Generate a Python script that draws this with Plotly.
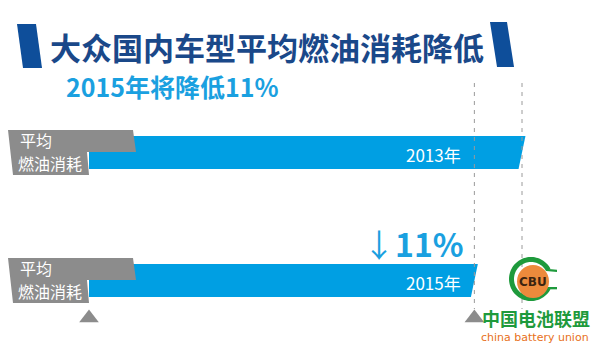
import math
import plotly.graph_objects as go

# ---- data ----
years = ["2013年", "2015年"]
values = [100, 89]          # average fuel consumption index (2013 = 100)
label_lines = ["平均", "燃油消耗"]
title_text = "大众国内车型平均燃油消耗降低"
subtitle_text = "2015年将降低11%"
logo_cn = "中国电池联盟"
logo_en = "china battery union"

# ---- styles / layout constants ----
W, H = 600, 349
BLUE = "#009fe3"
GRAY = "#8c8c8c"
NAVY = "#0e4e9a"
TITLE_C = "#1a4889"
SUB_C = "#1aa0e0"
GREEN = "#1e9a3c"
ORANGE = "#e8701a"
FONT = "Noto Sans CJK SC"

px_per_unit = 4.33
x0_px = 89.0
x_range = [-x0_px / px_per_unit, (W - x0_px) / px_per_unit]

bar_tops = [136, 264]
bar_h = 33
slant = 0.8   # in value units

fig = go.Figure()

# bars with slanted ends
for yr, v, top in zip(years, values, bar_tops):
    bot = top + bar_h
    fig.add_trace(go.Scatter(
        x=[0, v + slant, v - slant, 0, 0],
        y=[top, top, bot, bot, top],
        fill="toself", fillcolor=BLUE, mode="lines",
        line=dict(width=0, color=BLUE), hoverinfo="skip", showlegend=False))

# dashed reference lines at the bar ends
for v in values:
    fig.add_trace(go.Scatter(
        x=[v, v], y=[83, 309], mode="lines",
        line=dict(color="#9a9a9a", width=1, dash="4px,5px"),
        hoverinfo="skip", showlegend=False))

# triangles marking zero and the 2015 value
fig.add_trace(go.Scatter(
    x=[0, values[1]], y=[318, 318], mode="markers",
    marker=dict(symbol="triangle-up", size=17, color=GRAY, line=dict(width=0)),
    hoverinfo="skip", showlegend=False))

shapes = []
annotations = []

def poly(pts, color, layer="above"):
    d = "M " + " L ".join(f"{x},{y}" for x, y in pts) + " Z"
    return dict(type="path", path=d, xref="x2", yref="y", fillcolor=color,
                line=dict(width=0), layer=layer)

# title bars
shapes.append(poly([(17, 24), (36, 24), (42, 68), (23, 68)], NAVY))
shapes.append(poly([(490, 22), (507, 22), (514, 67), (497, 67)], NAVY))

# gray label tabs
for yr, top in zip(years, bar_tops):
    g0 = top - 6
    shapes.append(poly([(8, g0), (133, g0), (136, g0 + 22), (87, g0 + 22),
                        (89, g0 + 45), (13, g0 + 45)], GRAY))
    annotations.append(dict(x=18, y=g0 + 10, xref="x2", yref="y", text=label_lines[0],
                            showarrow=False, xanchor="left", yanchor="middle",
                            font=dict(family=FONT, size=16, color="white")))
    annotations.append(dict(x=16, y=g0 + 33, xref="x2", yref="y", text=label_lines[1],
                            showarrow=False, xanchor="left", yanchor="middle",
                            font=dict(family=FONT, size=16, color="white")))
    annotations.append(dict(x=463, y=top + 18, xref="x2", yref="y", text=yr,
                            showarrow=False, xanchor="right", yanchor="middle",
                            font=dict(family=FONT, size=17, color="white")))

# change label
drop = round((1 - values[1] / values[0]) * 100)
annotations.append(dict(x=466, y=243, xref="x2", yref="y", text=f"↓<b>{drop}%</b>",
                        showarrow=False, xanchor="right", yanchor="middle",
                        font=dict(family=FONT, size=32, color=SUB_C)))

# title & subtitle
annotations.append(dict(x=267, y=46, xref="x2", yref="y", text=f"<b>{title_text}</b>",
                        showarrow=False, xanchor="center", yanchor="middle",
                        font=dict(family=FONT, size=31, color=TITLE_C)))
annotations.append(dict(x=64, y=86, xref="x2", yref="y", text=f"<b>{subtitle_text}</b>",
                        showarrow=False, xanchor="left", yanchor="middle",
                        font=dict(family=FONT, size=25, color=SUB_C)))

# logo
cx, cy = 531, 279
ro, ri = 22, 17
a0, a1 = 28, 332
outer = [(cx + ro * math.cos(math.radians(a)), cy - ro * math.sin(math.radians(a)))
         for a in range(a0, a1 + 1, 4)]
inner = [(cx + ri * math.cos(math.radians(a)), cy - ri * math.sin(math.radians(a)))
         for a in range(a1, a0 - 1, -4)]
shapes.append(poly(outer + inner, GREEN))
sa = math.sin(math.radians(a0))
ca = math.cos(math.radians(a0))
shapes.append(poly([(cx + ri * ca, cy - ro * sa), (557, cy - ro * sa + 1),
                    (557, cy - ri * sa + 1), (cx + ri * ca, cy - ri * sa)], GREEN))
shapes.append(poly([(cx + ri * ca, cy + ri * sa), (557, cy + ri * sa),
                    (557, cy + ro * sa), (cx + ri * ca, cy + ro * sa)], GREEN))
shapes.append(dict(type="circle", xref="x2", yref="y", x0=517, x1=549, y0=265, y1=298,
                   fillcolor="#ec8a3c", line=dict(width=0), layer="above"))
annotations.append(dict(x=533, y=282, xref="x2", yref="y", text="<b>CBU</b>",
                        showarrow=False, xanchor="center", yanchor="middle",
                        font=dict(family="DejaVu Sans", size=12, color="#3b2410")))
annotations.append(dict(x=536, y=318, xref="x2", yref="y", text=f"<b>{logo_cn}</b>",
                        showarrow=False, xanchor="center", yanchor="middle",
                        font=dict(family=FONT, size=18, color=GREEN)))
annotations.append(dict(x=535, y=337, xref="x2", yref="y", text=logo_en,
                        showarrow=False, xanchor="center", yanchor="middle",
                        font=dict(family="DejaVu Sans", size=11, color=ORANGE)))

fig.update_layout(
    width=W, height=H, margin=dict(l=0, r=0, t=0, b=0),
    paper_bgcolor="white", plot_bgcolor="white",
    xaxis=dict(range=x_range, visible=False, fixedrange=True),
    xaxis2=dict(range=[0, W], visible=False, overlaying="x", fixedrange=True),
    yaxis=dict(range=[H, 0], visible=False, fixedrange=True),
    shapes=shapes, annotations=annotations, showlegend=False,
)

fig.write_html("out.html")
